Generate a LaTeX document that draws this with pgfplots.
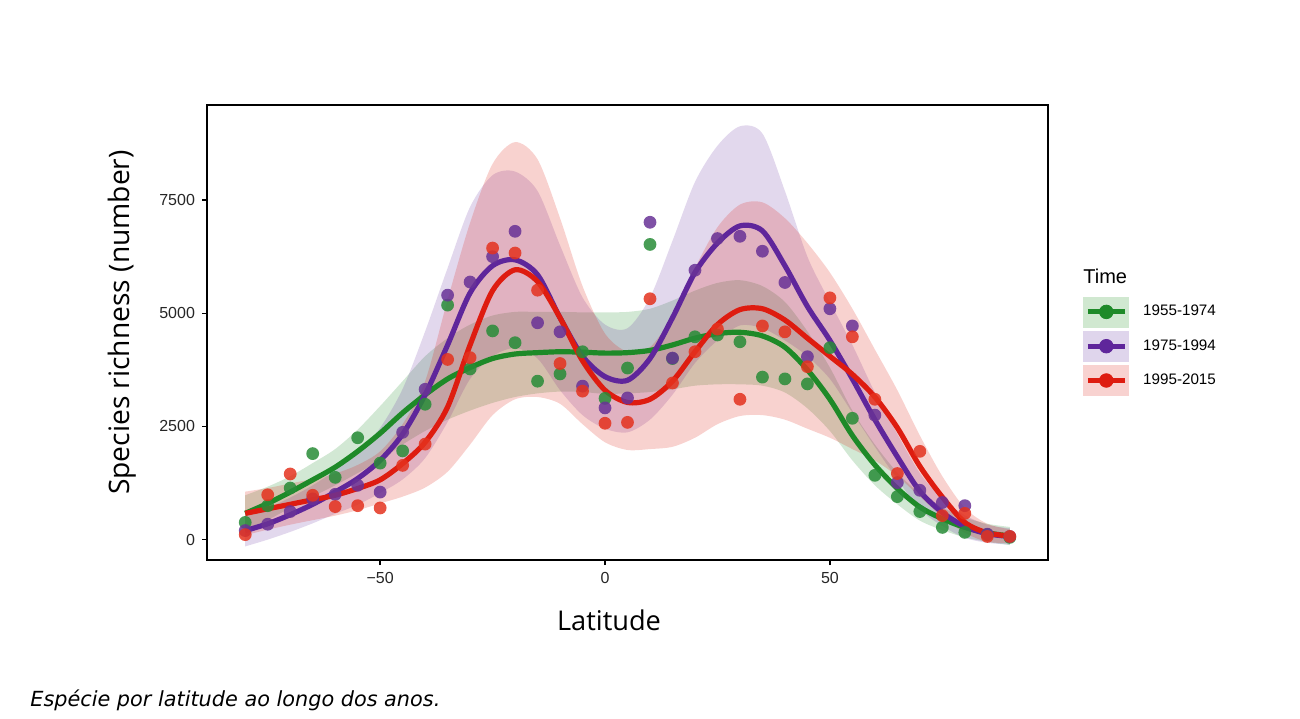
\documentclass[border=0pt]{standalone}
\usepackage{fontspec}
\setmainfont{Liberation Sans}
\newfontfamily\labelfont{Open Sans}
\newfontfamily\capfont{DejaVu Sans}
\usepackage{pgfplots}
\usepackage{pgfplotstable}
\pgfplotsset{compat=1.18}
\usepgfplotslibrary{fillbetween}

\definecolor{gline}{RGB}{30,138,40}
\definecolor{pline}{RGB}{95,38,155}
\definecolor{rline}{RGB}{222,28,16}
\definecolor{gpt}{RGB}{40,140,55}
\definecolor{ppt}{RGB}{105,50,150}
\definecolor{rpt}{RGB}{228,50,30}
\definecolor{gband}{RGB}{208,232,208}
\definecolor{pband}{RGB}{223,213,236}
\definecolor{rband}{RGB}{248,210,208}

\pgfplotstableread{
lat g gu gl p pu pl r ru rl
-80 580 980 180 200 550 -150 580 1060 100
-75 800 1170 430 350 700 0 680 1140 220
-70 1050 1400 700 550 930 170 780 1240 330
-65 1320 1690 950 780 1200 360 880 1340 430
-60 1600 2000 1200 1050 1530 570 980 1460 530
-55 1950 2430 1470 1350 1930 770 1130 1650 650
-50 2350 2950 1750 1750 2470 1030 1320 1950 800
-45 2800 3500 2100 2330 3330 1330 1680 2550 950
-40 3200 4050 2400 3200 4600 1800 2150 3500 1150
-35 3550 4450 2650 4300 6000 2600 2930 5300 1500
-30 3800 4750 2850 5450 7350 3550 4300 7000 2100
-25 4000 4950 3020 6050 8050 4050 5500 8300 2750
-20 4100 5030 3150 6180 8130 4230 5960 8780 3100
-15 4130 5030 3230 5850 7700 4000 5700 8400 3150
-10 4150 5030 3270 4900 6500 3300 4900 7100 3000
-5 4140 5020 3260 4050 5350 2750 3950 5600 2550
0 4120 5020 3220 3600 4750 2450 3300 4550 2150
5 4130 5030 3230 3520 4670 2370 3030 4150 1980
10 4180 5100 3260 4000 5350 2650 3100 4250 2000
15 4300 5280 3320 4900 6600 3200 3500 4950 2050
20 4450 5500 3400 5900 7900 3900 4150 6000 2250
25 4550 5670 3430 6550 8700 4400 4750 6900 2550
30 4580 5730 3430 6930 9130 4730 5080 7400 2730
35 4500 5600 3400 6820 8970 4670 5100 7450 2750
40 4250 5250 3250 6050 7700 4400 4850 7100 2650
45 3750 4600 2900 5150 6250 4050 4450 6550 2450
50 3100 3800 2400 4400 5250 3550 4050 5900 2250
55 2300 2850 1750 3550 4300 2800 3650 5100 2000
60 1650 2100 1200 2650 3250 2050 3150 4200 1750
65 1130 1480 780 1830 2330 1330 2470 3300 1400
70 720 1020 420 1070 1470 670 1620 2300 950
75 460 710 210 600 900 300 940 1400 500
80 270 490 50 290 540 40 380 700 150
85 150 350 -50 130 330 -70 150 350 -50
90 80 280 -120 70 250 -110 80 230 -70
}\fits

\pgfplotstableread{
lat g p r
-80 380 200 110
-75 750 340 990
-70 1140 620 1450
-65 1900 900 980
-60 1375 1000 730
-55 2250 1200 750
-50 1690 1050 700
-45 1960 2370 1640
-40 2990 3320 2110
-35 5180 5400 3980
-30 3770 5690 4020
-25 4610 6250 6440
-20 4350 6810 6330
-15 3500 4790 5510
-10 3660 4590 3890
-5 4150 3390 3280
0 3120 2910 2570
5 3790 3130 2590
10 6520 7010 5320
15 4000 4010 3460
20 4480 5950 4150
25 4520 6650 4650
30 4370 6700 3100
35 3590 6370 4720
40 3550 5680 4590
45 3440 4040 3820
50 4240 5100 5340
55 2680 4720 4480
60 1420 2750 3100
65 950 1260 1460
70 620 1090 1950
75 270 820 530
80 160 750 580
85 110 120 70
90 50 70 70
}\pts

\pgfplotsset{/tikz/fill between/on layer=main}

\begin{document}
\begin{tikzpicture}
\path (0,0) rectangle (650pt,359pt);
\begin{axis}[
  at={(103.5pt,79pt)}, anchor=south west,
  scale only axis, width=420.5pt, height=227.5pt,
  xmin=-88.5, xmax=98.5, ymin=-450, ymax=9600,
  axis line style={line width=0.8pt, black},
  tick pos=left, tick align=outside,
  major tick length=2.5pt,
  every tick/.style={black, line width=0.7pt},
  xtick={-50,0,50}, xticklabels={−50,0,50},
  ytick={0,2500,5000,7500}, yticklabels={0,2500,5000,7500},
  tick label style={font=\fontsize{8}{9}\selectfont, text=black!85},
  xlabel={Latitude}, ylabel={Species richness (number)},
  every axis x label/.style={at={(axis description cs:0.478,-0.132)}, anchor=center, font=\labelfont\fontsize{13.6}{15}\selectfont},
  every axis y label/.style={at={(axis description cs:-0.101,0.522)}, rotate=90, anchor=center, font=\labelfont\fontsize{14.1}{15}\selectfont},
  legend style={at={(1.0416,0.58)}, anchor=north west, draw=none, fill=none,
    font=\fontsize{7.6}{9}\selectfont, row sep=1.75pt, column sep=5pt, inner sep=0pt},
  legend cell align=left,
]
% legend
\addlegendimage{legend image code/.code={\fill[gband] (0pt,-7.5pt) rectangle (22.5pt,7.5pt); \draw[gline, line width=2.5pt] (2pt,0pt) -- (20.5pt,0pt); \fill[gline] (11.25pt,0pt) circle (3.4pt);}}
\addlegendentry{1955-1974}
\addlegendimage{legend image code/.code={\fill[pband] (0pt,-7.5pt) rectangle (22.5pt,7.5pt); \draw[pline, line width=2.5pt] (2pt,0pt) -- (20.5pt,0pt); \fill[pline] (11.25pt,0pt) circle (3.4pt);}}
\addlegendentry{1975-1994}
\addlegendimage{legend image code/.code={\fill[rband] (0pt,-7.5pt) rectangle (22.5pt,7.5pt); \draw[rline, line width=2.5pt] (2pt,0pt) -- (20.5pt,0pt); \fill[rline] (11.25pt,0pt) circle (3.4pt);}}
\addlegendentry{1995-2015}

% points
\addplot[forget plot, only marks, mark=*, mark size=3.2pt, mark options={fill=gpt, draw opacity=0, fill opacity=0.85}] table[x=lat,y=g]{\pts};
\addplot[forget plot, only marks, mark=*, mark size=3.2pt, mark options={fill=ppt, draw opacity=0, fill opacity=0.85}] table[x=lat,y=p]{\pts};
\addplot[forget plot, only marks, mark=*, mark size=3.2pt, mark options={fill=rpt, draw opacity=0, fill opacity=0.85}] table[x=lat,y=r]{\pts};

% bands
\addplot[forget plot, draw=none, smooth, name path=gu] table[x=lat,y=gu]{\fits};
\addplot[forget plot, draw=none, smooth, name path=gl] table[x=lat,y=gl]{\fits};
\addplot[forget plot, draw=none, fill=gline, fill opacity=0.2] fill between[of=gu and gl];
\addplot[forget plot, draw=none, smooth, name path=pu] table[x=lat,y=pu]{\fits};
\addplot[forget plot, draw=none, smooth, name path=pl] table[x=lat,y=pl]{\fits};
\addplot[forget plot, draw=none, fill=pline, fill opacity=0.18] fill between[of=pu and pl];
\addplot[forget plot, draw=none, smooth, name path=ru] table[x=lat,y=ru]{\fits};
\addplot[forget plot, draw=none, smooth, name path=rl] table[x=lat,y=rl]{\fits};
\addplot[forget plot, draw=none, fill=rline, fill opacity=0.2] fill between[of=ru and rl];

% lines
\addplot[forget plot, gline, line width=2.6pt, smooth] table[x=lat,y=g]{\fits};
\addplot[forget plot, pline, line width=2.6pt, smooth] table[x=lat,y=p]{\fits};
\addplot[forget plot, rline, line width=2.6pt, smooth] table[x=lat,y=r]{\fits};
\end{axis}
\node[anchor=west, font=\fontsize{10}{12}\selectfont, inner sep=0pt] at (541.5pt,221pt) {Time};
\node[anchor=base west, inner sep=0pt, font=\capfont\itshape\fontsize{10.4}{12}\selectfont] at (15pt,6pt) {Espécie por latitude ao longo dos anos.};
\end{tikzpicture}
\end{document}
